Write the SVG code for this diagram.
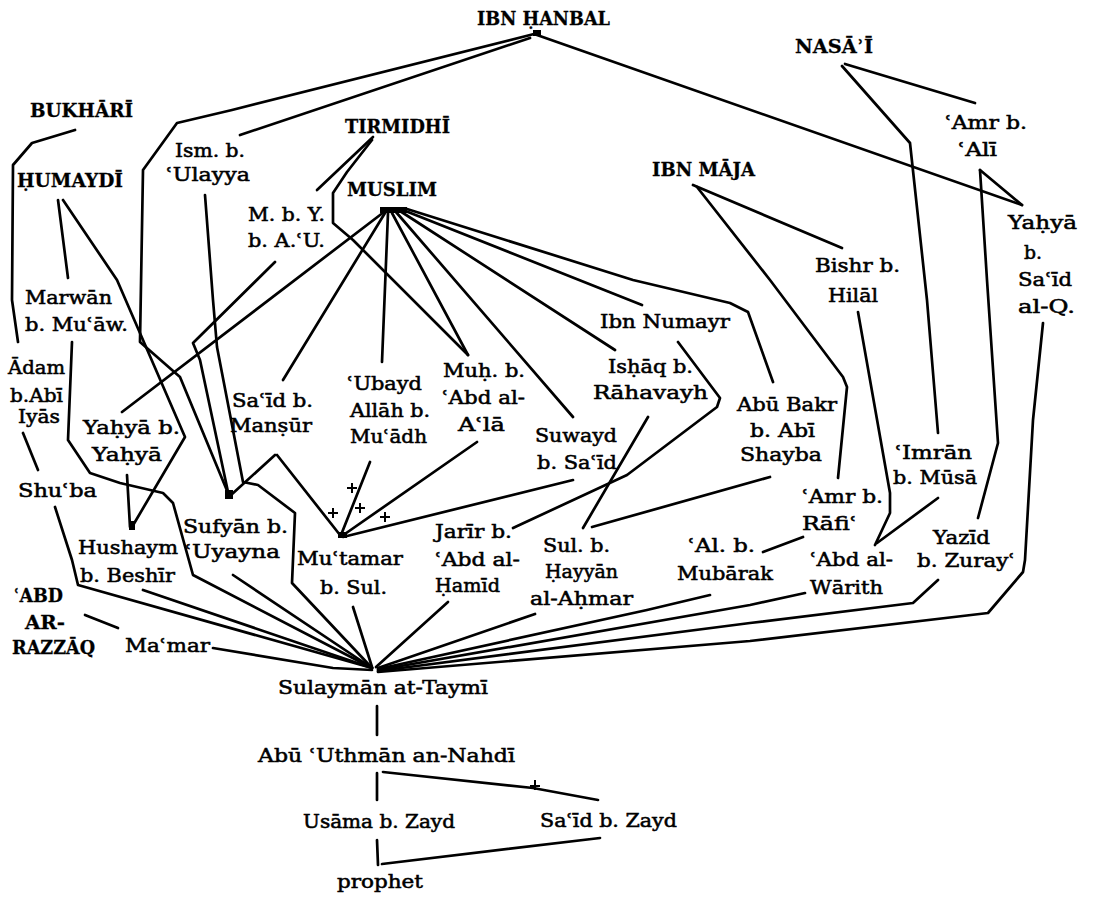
<svg xmlns="http://www.w3.org/2000/svg" width="1093" height="900" viewBox="0 0 1093 900">
<style>
  .t { font-family: "DejaVu Serif", "Liberation Serif", serif; font-size: 19px; fill: #000; stroke: #000; stroke-width: 0.55; }
  .h { font-weight: bold; stroke-width: 0.3; }
  .ln { fill: none; stroke: #000; stroke-width: 2.7; stroke-linejoin: round; stroke-linecap: round; }
  .mk { fill: none; stroke: #000; stroke-width: 2; }
</style>
<rect width="1093" height="900" fill="#fff"/>

<!-- transmission lines -->
<g id="connectors" class="ln">
  <!-- Ibn Hanbal -->
  <path d="M537,35 L1022,205"/>
  <path d="M538,33 L232,110 L177,123 L143,170 L140,342 L180,377 L228,493"/>
  <path d="M530,38 L240,135"/>
  <!-- Nasa'i -->
  <path d="M845,64 L975,103"/>
  <path d="M842,66 L910,143 L927,300 L938,433"/>
  <!-- 'Amr b. 'Ali -->
  <path d="M980,170 L1022,205"/>
  <path d="M980,170 L987,280 L998,443 L978,518"/>
  <!-- into Sulayman at-Taymi -->
  <path d="M1043,323 L1033,420 L1025,560 L1023,572 L988,613 L750,641 L378,672"/>
  <path d="M938,580 L913,603 L750,623 L378,671"/>
  <path d="M805,593 L750,605 L378,670"/>
  <path d="M710,595 L647,610 L378,669"/>
  <path d="M535,614 L378,668"/>
  <path d="M448,602 L376,667"/>
  <path d="M353,607 L372,667"/>
  <path d="M205,195 L213,300 L217,347 L243,482 L258,485 L295,513 L292,583 L372,668"/>
  <path d="M233,575 L372,668"/>
  <path d="M72,342 L68,440 L90,473 L120,483 L163,493 L173,503 L193,575 L372,668"/>
  <path d="M143,590 L372,668"/>
  <path d="M55,507 L72,560 L78,585 L372,668"/>
  <path d="M213,648 L333,668 L372,670"/>
  <path d="M85,615 L118,628"/>
  <!-- Bukhari, Humaydi -->
  <path d="M75,130 L32,143 L13,165 L12,300 L18,342"/>
  <path d="M23,433 L38,470"/>
  <path d="M58,200 L68,278"/>
  <path d="M63,200 L117,280 L185,437 L132,527"/>
  <path d="M127,475 L130,527"/>
  <path d="M275,262 L193,343 L200,360 L228,492"/>
  <path d="M275,455 L231,495"/>
  <path d="M277,455 L340,535"/>
  <!-- Tirmidhi -->
  <path d="M373,137 L317,190"/>
  <path d="M372,140 L347,172 L333,193 L333,223 L353,240 L468,355"/>
  <!-- Muslim -->
  <path d="M384,212 L122,412"/>
  <path d="M385,213 L283,380"/>
  <path d="M388,213 L382,362"/>
  <path d="M392,213 L468,355"/>
  <path d="M396,212 L573,417"/>
  <path d="M400,211 L615,350"/>
  <path d="M403,210 L642,305"/>
  <path d="M407,209 L633,280 L730,303 L748,312 L773,382"/>
  <!-- into Mu'tamar -->
  <path d="M370,462 L341,535"/>
  <path d="M477,442 L342,536"/>
  <path d="M573,480 L343,537"/>
  <!-- middle links -->
  <path d="M648,417 L583,528"/>
  <path d="M770,477 L592,527"/>
  <path d="M678,342 L720,398 L717,407 L627,475 L513,528"/>
  <!-- Ibn Maja -->
  <path d="M693,185 L842,248"/>
  <path d="M697,187 L770,280 L843,377 L847,387 L838,478"/>
  <path d="M803,537 L763,552"/>
  <path d="M858,312 L890,493 L890,513 L875,545"/>
  <path d="M938,498 L877,543"/>
  <!-- lower chain -->
  <path d="M377,706 L377,735"/>
  <path d="M377,773 L377,800"/>
  <path d="M383,772 L533,788 L598,800"/>
  <path d="M377,840 L378,865"/>
  <path d="M382,864 L600,838"/>
</g>

<!-- interruption marks -->
<g id="marks" class="mk">
  <path d="M333,508 v10 M328,513 h10"/>
  <path d="M352,483 v10 M347,488 h10"/>
  <path d="M360,503 v10 M355,508 h10"/>
  <path d="M385,512 v10 M380,517 h10"/>
  <path d="M535,780 v10 M530,786 h10"/>
</g>

<!-- junction bars -->
<g id="junctions" fill="#000">
  <rect x="380" y="207" width="27" height="6"/>
  <rect x="533" y="30" width="8" height="6"/>
  <rect x="225" y="490" width="8" height="9"/>
  <rect x="129" y="521" width="6" height="9"/>
  <rect x="338" y="532" width="9" height="6"/>
</g>

<g id="n-ibn-hanbal"><text class="t h" x="477" y="25" textLength="133" lengthAdjust="spacingAndGlyphs">IBN ḤANBAL</text></g>
<g id="n-nasai"><text class="t h" x="795" y="53" textLength="78" lengthAdjust="spacingAndGlyphs">NASĀʾĪ</text></g>
<g id="n-bukhari"><text class="t h" x="30" y="117" textLength="103" lengthAdjust="spacingAndGlyphs">BUKHĀRĪ</text></g>
<g id="n-tirmidhi"><text class="t h" x="345" y="133" textLength="105" lengthAdjust="spacingAndGlyphs">TIRMIDHĪ</text></g>
<g id="n-ibn-maja"><text class="t h" x="652" y="176" textLength="103" lengthAdjust="spacingAndGlyphs">IBN MĀJA</text></g>
<g id="n-humaydi"><text class="t h" x="17" y="187" textLength="106" lengthAdjust="spacingAndGlyphs">ḤUMAYDĪ</text></g>
<g id="n-muslim"><text class="t h" x="347" y="196" textLength="90" lengthAdjust="spacingAndGlyphs">MUSLIM</text></g>

<g id="n-ism">
  <text class="t" x="175" y="157" textLength="70" lengthAdjust="spacingAndGlyphs">Ism. b.</text>
  <text class="t" x="166" y="181" textLength="84" lengthAdjust="spacingAndGlyphs">ʿUlayya</text>
</g>
<g id="n-mby">
  <text class="t" x="248" y="221" textLength="77" lengthAdjust="spacingAndGlyphs">M. b. Y.</text>
  <text class="t" x="248" y="247" textLength="77" lengthAdjust="spacingAndGlyphs">b. A.ʿU.</text>
</g>
<g id="n-amr-ali">
  <text class="t" x="945" y="129" textLength="82" lengthAdjust="spacingAndGlyphs">ʿAmr b.</text>
  <text class="t" x="958" y="156" textLength="39" lengthAdjust="spacingAndGlyphs">ʿAlī</text>
</g>
<g id="n-yahya-said">
  <text class="t" x="1008" y="229" textLength="69" lengthAdjust="spacingAndGlyphs">Yaḥyā</text>
  <text class="t" x="1024" y="259" textLength="18" lengthAdjust="spacingAndGlyphs">b.</text>
  <text class="t" x="1018" y="286" textLength="54" lengthAdjust="spacingAndGlyphs">Saʿīd</text>
  <text class="t" x="1018" y="313" textLength="57" lengthAdjust="spacingAndGlyphs">al-Q.</text>
</g>
<g id="n-bishr">
  <text class="t" x="815" y="272" textLength="85" lengthAdjust="spacingAndGlyphs">Bishr b.</text>
  <text class="t" x="828" y="302" textLength="50" lengthAdjust="spacingAndGlyphs">Hilāl</text>
</g>
<g id="n-marwan">
  <text class="t" x="25" y="304" textLength="87" lengthAdjust="spacingAndGlyphs">Marwān</text>
  <text class="t" x="25" y="331" textLength="103" lengthAdjust="spacingAndGlyphs">b. Muʿāw.</text>
</g>
<g id="n-ibn-numayr"><text class="t" x="600" y="328" textLength="130" lengthAdjust="spacingAndGlyphs">Ibn Numayr</text></g>
<g id="n-adam">
  <text class="t" x="8" y="374" textLength="57" lengthAdjust="spacingAndGlyphs">Ādam</text>
  <text class="t" x="10" y="402" textLength="53" lengthAdjust="spacingAndGlyphs">b.Abī</text>
  <text class="t" x="18" y="423" textLength="42" lengthAdjust="spacingAndGlyphs">Iyās</text>
</g>
<g id="n-ishaq">
  <text class="t" x="608" y="373" textLength="85" lengthAdjust="spacingAndGlyphs">Isḥāq b.</text>
  <text class="t" x="593" y="399" textLength="115" lengthAdjust="spacingAndGlyphs">Rāhavayh</text>
</g>
<g id="n-muh-abd-ala">
  <text class="t" x="443" y="377" textLength="82" lengthAdjust="spacingAndGlyphs">Muḥ. b.</text>
  <text class="t" x="442" y="404" textLength="83" lengthAdjust="spacingAndGlyphs">ʿAbd al-</text>
  <text class="t" x="458" y="431" textLength="47" lengthAdjust="spacingAndGlyphs">Aʿlā</text>
</g>
<g id="n-ubayd">
  <text class="t" x="347" y="390" textLength="75" lengthAdjust="spacingAndGlyphs">ʿUbayd</text>
  <text class="t" x="350" y="417" textLength="80" lengthAdjust="spacingAndGlyphs">Allāh b.</text>
  <text class="t" x="350" y="443" textLength="77" lengthAdjust="spacingAndGlyphs">Muʿādh</text>
</g>
<g id="n-said-mansur">
  <text class="t" x="232" y="407" textLength="81" lengthAdjust="spacingAndGlyphs">Saʿīd b.</text>
  <text class="t" x="230" y="432" textLength="82" lengthAdjust="spacingAndGlyphs">Manṣūr</text>
</g>
<g id="n-abu-bakr">
  <text class="t" x="737" y="411" textLength="100" lengthAdjust="spacingAndGlyphs">Abū Bakr</text>
  <text class="t" x="750" y="437" textLength="65" lengthAdjust="spacingAndGlyphs">b. Abī</text>
  <text class="t" x="740" y="461" textLength="82" lengthAdjust="spacingAndGlyphs">Shayba</text>
</g>
<g id="n-yahya-yahya">
  <text class="t" x="83" y="434" textLength="97" lengthAdjust="spacingAndGlyphs">Yaḥyā b.</text>
  <text class="t" x="92" y="461" textLength="70" lengthAdjust="spacingAndGlyphs">Yaḥyā</text>
</g>
<g id="n-suwayd">
  <text class="t" x="535" y="442" textLength="82" lengthAdjust="spacingAndGlyphs">Suwayd</text>
  <text class="t" x="537" y="469" textLength="80" lengthAdjust="spacingAndGlyphs">b. Saʿīd</text>
</g>
<g id="n-imran">
  <text class="t" x="895" y="459" textLength="77" lengthAdjust="spacingAndGlyphs">ʿImrān</text>
  <text class="t" x="893" y="484" textLength="84" lengthAdjust="spacingAndGlyphs">b. Mūsā</text>
</g>
<g id="n-shuba"><text class="t" x="18" y="497" textLength="79" lengthAdjust="spacingAndGlyphs">Shuʿba</text></g>
<g id="n-amr-rafi">
  <text class="t" x="802" y="503" textLength="81" lengthAdjust="spacingAndGlyphs">ʿAmr b.</text>
  <text class="t" x="802" y="530" textLength="55" lengthAdjust="spacingAndGlyphs">Rāfiʿ</text>
</g>
<g id="n-sufyan">
  <text class="t" x="183" y="533" textLength="105" lengthAdjust="spacingAndGlyphs">Sufyān b.</text>
  <text class="t" x="185" y="558" textLength="95" lengthAdjust="spacingAndGlyphs">ʿUyayna</text>
</g>
<g id="n-jarir">
  <text class="t" x="435" y="538" textLength="77" lengthAdjust="spacingAndGlyphs">Jarīr b.</text>
  <text class="t" x="435" y="566" textLength="85" lengthAdjust="spacingAndGlyphs">ʿAbd al-</text>
  <text class="t" x="435" y="592" textLength="65" lengthAdjust="spacingAndGlyphs">Ḥamīd</text>
</g>
<g id="n-yazid">
  <text class="t" x="933" y="544" textLength="57" lengthAdjust="spacingAndGlyphs">Yazīd</text>
  <text class="t" x="917" y="567" textLength="98" lengthAdjust="spacingAndGlyphs">b. Zurayʿ</text>
</g>
<g id="n-al-mubarak">
  <text class="t" x="688" y="552" textLength="67" lengthAdjust="spacingAndGlyphs">ʿAl. b.</text>
  <text class="t" x="677" y="580" textLength="96" lengthAdjust="spacingAndGlyphs">Mubārak</text>
</g>
<g id="n-sul-hayyan">
  <text class="t" x="543" y="552" textLength="67" lengthAdjust="spacingAndGlyphs">Sul. b.</text>
  <text class="t" x="545" y="578" textLength="73" lengthAdjust="spacingAndGlyphs">Ḥayyān</text>
  <text class="t" x="530" y="605" textLength="103" lengthAdjust="spacingAndGlyphs">al-Aḥmar</text>
</g>
<g id="n-hushaym">
  <text class="t" x="78" y="554" textLength="100" lengthAdjust="spacingAndGlyphs">Hushaym</text>
  <text class="t" x="80" y="582" textLength="95" lengthAdjust="spacingAndGlyphs">b. Beshīr</text>
</g>
<g id="n-mutamar">
  <text class="t" x="297" y="565" textLength="106" lengthAdjust="spacingAndGlyphs">Muʿtamar</text>
  <text class="t" x="320" y="594" textLength="67" lengthAdjust="spacingAndGlyphs">b. Sul.</text>
</g>
<g id="n-abd-warith">
  <text class="t" x="810" y="566" textLength="83" lengthAdjust="spacingAndGlyphs">ʿAbd al-</text>
  <text class="t" x="810" y="594" textLength="73" lengthAdjust="spacingAndGlyphs">Wārith</text>
</g>
<g id="n-abd-razzaq">
  <text class="t h" x="13" y="602" textLength="50" lengthAdjust="spacingAndGlyphs">ʿABD</text>
  <text class="t h" x="25" y="629" textLength="40" lengthAdjust="spacingAndGlyphs">AR-</text>
  <text class="t h" x="12" y="654" textLength="83" lengthAdjust="spacingAndGlyphs">RAZZĀQ</text>
</g>
<g id="n-mamar"><text class="t" x="125" y="652" textLength="85" lengthAdjust="spacingAndGlyphs">Maʿmar</text></g>
<g id="n-sulayman"><text class="t" x="278" y="694" textLength="210" lengthAdjust="spacingAndGlyphs">Sulaymān at-Taymī</text></g>
<g id="n-abu-uthman"><text class="t" x="258" y="762" textLength="257" lengthAdjust="spacingAndGlyphs">Abū ʿUthmān an-Nahdī</text></g>
<g id="n-usama"><text class="t" x="303" y="828" textLength="152" lengthAdjust="spacingAndGlyphs">Usāma b. Zayd</text></g>
<g id="n-said-zayd"><text class="t" x="540" y="827" textLength="137" lengthAdjust="spacingAndGlyphs">Saʿīd b. Zayd</text></g>
<g id="n-prophet"><text class="t" x="337" y="888" textLength="86" lengthAdjust="spacingAndGlyphs">prophet</text></g>
</svg>
